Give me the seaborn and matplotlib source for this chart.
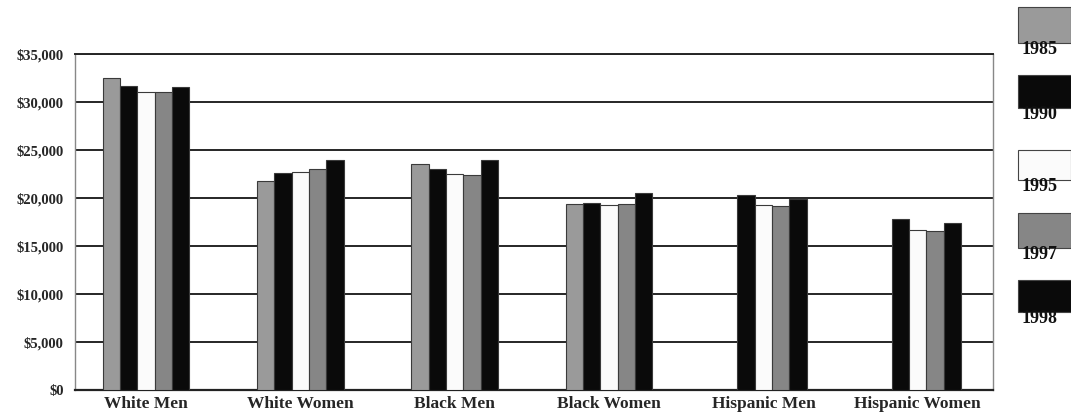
import numpy as np
import pandas as pd
import seaborn as sns
import matplotlib.pyplot as plt
from matplotlib.patches import Rectangle
from matplotlib.ticker import FuncFormatter

# Median income by group and year (NaN = no figure reported)
groups = ["White Men", "White Women", "Black Men", "Black Women",
          "Hispanic Men", "Hispanic Women"]
years = ["1985", "1990", "1995", "1997", "1998"]
income_1985 = [32500, 21800, 23500, 19400, np.nan, np.nan]
income_1990 = [31700, 22600, 23000, 19500, 20300, 17800]
income_1995 = [31100, 22700, 22500, 19300, 19300, 16700]
income_1997 = [31100, 23000, 22400, 19400, 19200, 16600]
income_1998 = [31600, 24000, 24000, 20500, 19900, 17400]
y_ticks = [0, 5000, 10000, 15000, 20000, 25000, 30000, 35000]

series = [income_1985, income_1990, income_1995, income_1997, income_1998]
df = pd.DataFrame({
    "group": np.repeat([groups], len(years), axis=0).ravel(),
    "year": np.repeat(years, len(groups)),
    "income": np.concatenate(series),
})

colors = {"1985": "#9a9a9a", "1990": "#0a0a0a", "1995": "#fbfbfb",
          "1997": "#868686", "1998": "#0a0a0a"}

sns.set_theme(style="white")
plt.rcParams["font.family"] = ["Liberation Serif", "DejaVu Serif"]
plt.rcParams["font.weight"] = "bold"

fig = plt.figure(figsize=(10.71, 4.16), dpi=100)
ax = fig.add_axes([0.070, 0.0625, 0.857, 0.8075])

sns.barplot(data=df, x="group", y="income", hue="year", order=groups,
            hue_order=years, palette=colors, width=0.56, dodge=True,
            edgecolor="#3a3a3a", linewidth=0.8, saturation=1, ax=ax,
            legend=False, zorder=3)

ax.set_ylim(0, 35000)
ax.set_xlim(-0.46, 5.486)
ax.set_yticks(y_ticks)
ax.yaxis.set_major_formatter(FuncFormatter(lambda v, p: f"${v:,.0f}"))
ax.grid(axis="y", color="#262626", linewidth=1.4, zorder=0)
ax.set_axisbelow(True)
ax.set_xlabel("")
ax.set_ylabel("")

for side in ["left", "right"]:
    ax.spines[side].set_color("#888888")
    ax.spines[side].set_linewidth(1.0)
ax.spines["top"].set_color("#262626")
ax.spines["top"].set_linewidth(1.4)
ax.spines["bottom"].set_color("#222222")
ax.spines["bottom"].set_linewidth(1.6)

ax.tick_params(axis="y", labelsize=10.5, length=0, pad=8)
ax.tick_params(axis="x", labelsize=12.5, length=0, pad=4)
for lab in ax.get_xticklabels() + ax.get_yticklabels():
    lab.set_fontweight("bold")

# Legend: swatch with year printed beneath it, stacked down the right edge
sw_x, sw_w = 1018 / 1071, 53 / 1071
boxes = [(7, 43), (75, 108), (150, 180), (213, 248), (280, 312)]
for yr, (top, bottom) in zip(years, boxes):
    y0 = 1 - bottom / 416
    fig.patches.append(Rectangle((sw_x, y0), sw_w, (bottom - top) / 416,
                                 transform=fig.transFigure,
                                 facecolor=colors[yr], edgecolor="#444444",
                                 linewidth=0.8))
    fig.text(sw_x + 0.003, y0 + 0.004, yr, fontsize=13, fontweight="bold",
             ha="left", va="top", color="#111111")

fig.savefig("out.png", dpi=100)
